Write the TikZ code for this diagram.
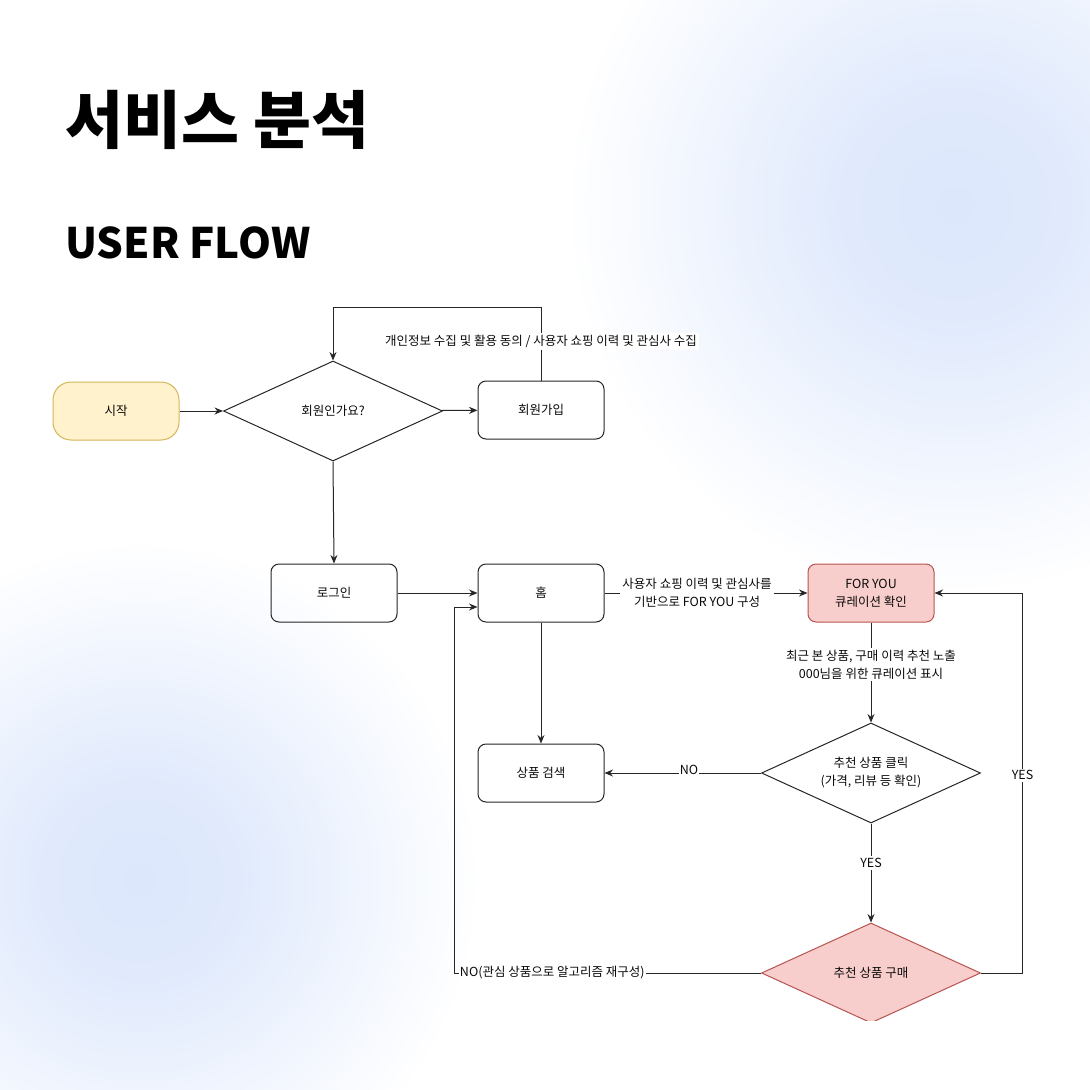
\documentclass[tikz,border=0pt]{standalone}
\usepackage{fontspec}
\setmainfont{Noto Sans CJK KR}
\usetikzlibrary{shapes.geometric,arrows.meta}
\definecolor{glow}{RGB}{220,231,252}
\definecolor{startfill}{RGB}{255,242,204}
\definecolor{startline}{RGB}{214,182,86}
\definecolor{hotfill}{RGB}{248,206,204}
\definecolor{hotline}{RGB}{184,84,80}
\definecolor{ink}{RGB}{10,10,10}
\pgfdeclareradialshading{glowshade}{\pgfpoint{0bp}{0bp}}{color(0bp)=(glow); color(7bp)=(glow!88!white); color(25bp)=(white); color(50bp)=(white)}

\begin{document}
\begin{tikzpicture}[x = 1pt, y = -1pt,
    every node/.style = {font = \fontsize{12.5}{18}\selectfont, text = ink},
    procbox/.style = {draw = black!85, line width = 1pt, rounded corners = 8pt, minimum width = 126pt,
        minimum height = 58pt, inner sep = 2pt, align = center},
    startbox/.style = {procbox, fill = startfill, draw = startline, rounded corners = 18pt},
    hotbox/.style = {procbox, fill = hotfill, draw = hotline},
    decision/.style = {draw = black!85, line width = 1pt, diamond, aspect = 2.2, inner sep = 0pt,
        minimum width = 219pt, minimum height = 100pt, align = center},
    hotdecision/.style = {decision, fill = hotfill, draw = hotline},
    edgelabel/.style = {fill = white, inner sep = 2pt, align = center},
    flow/.style = {draw = black!85, line width = 1pt, -{Stealth[length = 8.5pt, width = 7pt]}}]
    % page and soft background
    \fill[white] (0,0) rectangle (1090,1090);
    \useasboundingbox (0,0) rectangle (1090,1090);
    \shade[shading = glowshade] (955,205) circle[radius = 390pt];
    \shade[shading = glowshade] (140,880) circle[radius = 340pt];
    % titles
    \node[anchor = base west, inner sep = 0pt, font = \fontsize{63}{75}\selectfont\bfseries, text = black]
        (title) at (65,143) {서비스 분석};
    \node[anchor = base west, inner sep = 0pt, font = \fontsize{42}{50}\selectfont\bfseries, text = black]
        (subtitle) at (65,258) {USER FLOW};
    % nodes
    \node[startbox] (start) at (116,411) {시작};
    \node[decision] (member) at (333,411) {회원인가요?};
    \node[procbox] (signup) at (541,410) {회원가입};
    \node[procbox] (login) at (334,593) {로그인};
    \node[procbox] (home) at (541,593) {홈};
    \node[hotbox] (foryou) at (871,593) {FOR YOU\\큐레이션 확인};
    \node[procbox] (search) at (541,773) {상품 검색};
    \node[decision] (click) at (871,773) {추천 상품 클릭\\(가격, 리뷰 등 확인)};
    \begin{scope}
        \clip (700,900) rectangle (1090,1020);
        \node[hotdecision] (buy) at (871,973) {추천 상품 구매};
    \end{scope}
    % connectors
    \draw[flow] (start) -- (member);
    \draw[flow] (member) -- (signup);
    \draw[flow] (signup.north) -- ++(0,-73)
        node[edgelabel, pos = 0.53] {개인정보 수집 및 활용 동의 / 사용자 쇼핑 이력 및 관심사 수집}
        -| (member.north);
    \draw[flow] (member.south) -- (login.north);
    \draw[flow] (login) -- (home);
    \draw[flow] (home) -- node[edgelabel, pos = 0.456] {사용자 쇼핑 이력 및 관심사를\\기반으로 FOR YOU 구성} (foryou);
    \draw[flow] (foryou) -- node[edgelabel, pos = 0.42] {최근 본 상품, 구매 이력 추천 노출\\000님을 위한 큐레이션 표시} (click.north);
    \draw[flow] (home) -- (search);
    \draw[flow] (click.west) -- node[edgelabel, pos = 0.46, yshift = 3pt, inner sep = 0.5pt] {NO} (search.east);
    \draw[flow] (click.south) -- node[edgelabel, pos = 0.4] {YES} (buy.north);
    \draw[flow] (buy.east) -| node[edgelabel, pos = 0.76] {YES} ([xshift = 88pt]foryou.east) -- (foryou.east);
    \draw[flow] (buy.west) -| node[edgelabel, pos = 0.4935, anchor = west, inner sep = 1pt] {NO(관심 상품으로 알고리즘 재구성)}
        ([xshift = -23pt, yshift = -14pt]home.west) -- ([yshift = -14pt]home.west);
\end{tikzpicture}
\end{document}
